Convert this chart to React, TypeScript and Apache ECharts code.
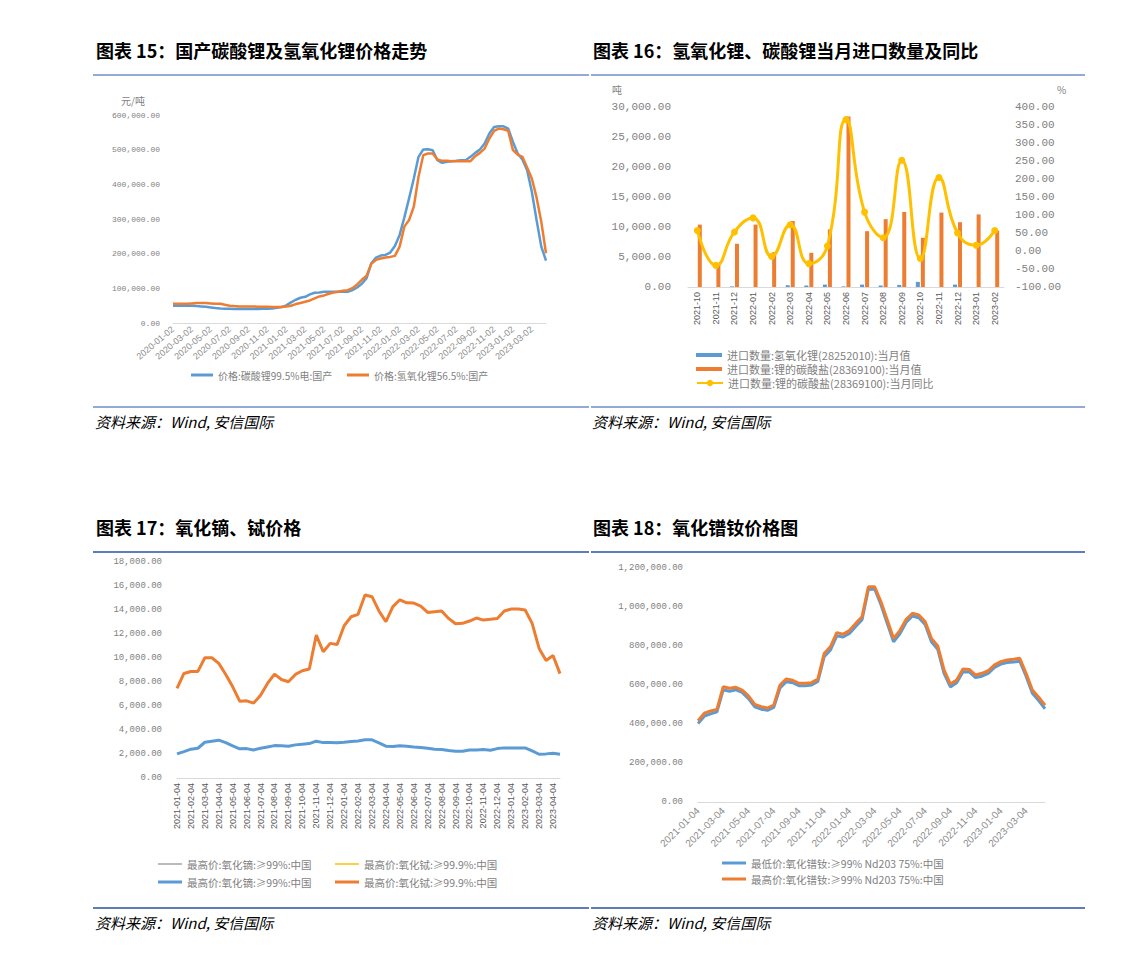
import React, { useEffect, useRef } from "react";
import * as echarts from "echarts";

// ---------- categories ----------
function semiMonthly(y0: number, m0: number, d1: string, d2: string, count: number): string[] {
  const out: string[] = [];
  let y = y0;
  let m = m0;
  while (out.length < count) {
    const mm = m < 10 ? "0" + m : "" + m;
    out.push(`${y}-${mm}-${d1}`);
    if (out.length < count) out.push(`${y}-${mm}-${d2}`);
    m += 1;
    if (m > 12) { m = 1; y += 1; }
  }
  return out;
}
const dates15 = semiMonthly(2020, 1, "02", "17", 80);
const dates17 = semiMonthly(2021, 1, "04", "19", 56);
const dates18 = semiMonthly(2021, 1, "04", "19", 56);
const months16 = ["2021-10", "2021-11", "2021-12", "2022-01", "2022-02", "2022-03", "2022-04", "2022-05", "2022-06", "2022-07", "2022-08", "2022-09", "2022-10", "2022-11", "2022-12", "2023-01", "2023-02"];

// ---------- chart 15: lithium prices (yuan/t) ----------
const carbonatePrice = [49800, 49800, 49800, 49800, 49800, 48800, 47900, 46900, 45000, 43100, 42100, 41200, 41200, 40200, 40200, 40200, 40200, 40200, 40200, 41200, 41200, 42100, 44000, 45900, 50700, 59400, 67000, 72800, 75700, 82400, 87200, 88100, 90100, 90100, 90100, 90100, 90100, 90100, 94800, 102500, 113100, 129400, 172500, 188800, 194500, 196500, 203200, 222300, 254000, 304800, 359400, 417000, 479300, 500400, 501300, 498500, 469700, 462000, 465000, 466800, 467800, 469700, 469700, 479300, 490800, 500400, 517600, 546400, 565600, 567500, 567500, 560800, 522400, 488900, 471600, 441000, 378600, 297100, 220400, 180200];
const hydroxidePrice = [55500, 55500, 55500, 55500, 56500, 57500, 57500, 57500, 56500, 55500, 55500, 52600, 49800, 48800, 47900, 47900, 47900, 47900, 46900, 46900, 46900, 45900, 45900, 45900, 47900, 49800, 54600, 57500, 61300, 65100, 70900, 76600, 79500, 84300, 88100, 90100, 92900, 94800, 100600, 111100, 124600, 136100, 170600, 182100, 185900, 188800, 190700, 193600, 220400, 278000, 297100, 335500, 421800, 484100, 488900, 488900, 471600, 467800, 467800, 466800, 466800, 466800, 466800, 466800, 481200, 490800, 503200, 532000, 554000, 560800, 558900, 554000, 498500, 486000, 479300, 448600, 417000, 362300, 292300, 201300];

// ---------- chart 16: imports ----------
const hydroxideImports = [0, 0, 100, 0, 0, 300, 250, 400, 100, 400, 250, 350, 850, 0, 400, 0, 0];
const carbonateImports = [10400, 3900, 7200, 10400, 5800, 11000, 5700, 9600, 28400, 9300, 11300, 12500, 8200, 12400, 10800, 12100, 9400];
const carbonateImportsYoY = [57, -40, 53, 92, -15, 73, -35, 14, 365, 108, 37, 252, -21, 204, 50, 16, 57];

// ---------- chart 17: Dy2O3 / Tb4O7 (yuan/kg) ----------
const dysprosiumMax = [2010, 2200, 2400, 2480, 2980, 3070, 3150, 2950, 2680, 2430, 2450, 2340, 2480, 2590, 2700, 2680, 2650, 2760, 2820, 2870, 3070, 2950, 2950, 2930, 2980, 3040, 3090, 3180, 3180, 2930, 2650, 2620, 2680, 2650, 2590, 2540, 2480, 2400, 2370, 2290, 2230, 2230, 2340, 2340, 2370, 2310, 2450, 2510, 2510, 2510, 2510, 2260, 1980, 2010, 2060, 1980];
const terbiumMax = [7460, 8710, 8880, 8880, 10020, 10020, 9550, 8630, 7600, 6400, 6430, 6240, 6900, 7880, 8660, 8210, 8020, 8630, 8940, 9080, 11910, 10520, 11220, 11130, 12690, 13440, 13640, 15250, 15110, 13920, 13030, 14280, 14850, 14600, 14580, 14330, 13800, 13860, 13920, 13300, 12860, 12890, 13080, 13330, 13160, 13220, 13300, 13920, 14080, 14080, 14000, 12890, 10800, 9800, 10200, 8700];

// ---------- chart 18: PrNd oxide (yuan/t) ----------
const prndMin = [402000, 440000, 452000, 462000, 575000, 568000, 575000, 562000, 530000, 488000, 476000, 470000, 485000, 585000, 617000, 612000, 596000, 596000, 600000, 618000, 745000, 780000, 852000, 846000, 864000, 900000, 935000, 1090000, 1092000, 1012000, 915000, 822000, 862000, 922000, 954000, 945000, 910000, 822000, 783000, 660000, 590000, 612000, 668000, 667000, 638000, 645000, 660000, 690000, 707000, 715000, 718000, 722000, 645000, 558000, 520000, 478000];
const prndMax = [417000, 455000, 467000, 475000, 591000, 583000, 588000, 574000, 544000, 501000, 489000, 482000, 497000, 600000, 631000, 624000, 609000, 609000, 612000, 631000, 762000, 797000, 868000, 861000, 879000, 916000, 950000, 1104000, 1104000, 1027000, 933000, 839000, 879000, 937000, 968000, 959000, 925000, 839000, 800000, 677000, 605000, 626000, 682000, 680000, 651000, 660000, 673000, 703000, 720000, 728000, 732000, 737000, 660000, 574000, 537000, 496000];

// ---------- texts ----------
const titles = [
  "图表 15：国产碳酸锂及氢氧化锂价格走势",
  "图表 16：氢氧化锂、碳酸锂当月进口数量及同比",
  "图表 17：氧化镝、铽价格",
  "图表 18：氧化镨钕价格图",
];
const sourceText = "资料来源：Wind, 安信国际";

const BLUE = "#5B9BD5";
const ORANGE = "#ED7D31";
const YELLOW = "#FFC000";
const GRAY = "#A5A5A5";
const CJK = '"Noto Sans CJK SC", "Noto Sans", sans-serif';
const MONO = '"Liberation Mono", "DejaVu Sans Mono", monospace';
const SANS = '"Liberation Sans", Arial, sans-serif';

const fmt = (v: number) =>
  Number(v).toLocaleString("en-US", { minimumFractionDigits: 2, maximumFractionDigits: 2 });

function valueAxis(gridIndex: number, min: number, max: number, interval: number, size: number, margin: number, extra: any = {}) {
  return {
    type: "value",
    gridIndex,
    min,
    max,
    interval,
    axisLine: { show: false },
    axisTick: { show: false },
    splitLine: { show: false },
    axisLabel: { color: "#7f7f7f", fontFamily: MONO, fontSize: size, margin, formatter: fmt },
    ...extra,
  };
}

function catAxis(gridIndex: number, data: string[], boundaryGap: boolean, interval: number, rotate: number, size: number, margin: number, color: string) {
  return {
    type: "category",
    gridIndex,
    data,
    boundaryGap,
    axisLine: { show: true, lineStyle: { color: "#d9d9d9", width: 1 } },
    axisTick: { show: false },
    splitLine: { show: false },
    axisLabel: { interval, rotate, fontSize: size, fontFamily: SANS, color, margin },
  };
}

function legendAt(name: string, left: number, top: number, fontSize: number, extra: any = {}) {
  return {
    data: [name],
    left,
    top,
    padding: 0,
    itemGap: 0,
    itemWidth: 24,
    itemHeight: 3,
    icon: "rect",
    selectedMode: false,
    textStyle: { color: "#7f7f7f", fontFamily: CJK, fontSize, lineHeight: 12 },
    ...extra,
  };
}

function lineSeries(name: string, xi: number, yi: number, data: number[], color: string, width: number) {
  return {
    name,
    type: "line",
    xAxisIndex: xi,
    yAxisIndex: yi,
    data,
    symbol: "none",
    lineStyle: { color, width },
    itemStyle: { color },
  };
}

function buildOption(): any {
  const stripTag = (n: string) => n.replace(/#.*$/, "");

  const graphics: any[] = [];
  const titlePos = [
    [96, 50],
    [593, 50],
    [96, 527],
    [593, 527],
  ];
  titles.forEach((t, i) => {
    graphics.push({
      type: "text",
      x: titlePos[i][0],
      y: titlePos[i][1],
      style: { text: t, fontSize: 18, fontWeight: "bold", fontFamily: CJK, fill: "#000", verticalAlign: "middle" },
    });
  });
  const srcPos = [
    [95, 421],
    [592, 421],
    [95, 922],
    [592, 922],
  ];
  srcPos.forEach((p) => {
    graphics.push({
      type: "text",
      x: p[0],
      y: p[1],
      style: { text: sourceText, fontSize: 15, fontStyle: "italic", fontFamily: CJK, fill: "#000", verticalAlign: "middle" },
    });
  });
  const rules = [
    [93, 589, 75, "#6F8DCB"],
    [591, 1085, 75, "#6F8DCB"],
    [93, 589, 407, "#6F8DCB"],
    [591, 1085, 407, "#6F8DCB"],
    [93, 589, 552, "#2B50A5"],
    [591, 1085, 552, "#2B50A5"],
    [93, 589, 908, "#2B50A5"],
    [591, 1085, 908, "#2B50A5"],
  ];
  rules.forEach((r: any) => {
    graphics.push({
      type: "line",
      shape: { x1: r[0], y1: r[2], x2: r[1], y2: r[2] },
      style: { stroke: r[3], lineWidth: 1.5 },
    });
  });
  const units = [
    ["元/吨", 121, 100],
    ["吨", 612, 89],
    ["%", 1057, 89],
  ];
  units.forEach((u: any) => {
    graphics.push({
      type: "text",
      x: u[1],
      y: u[2],
      style: { text: u[0], fontSize: 10, fontFamily: CJK, fill: "#7f7f7f", verticalAlign: "middle" },
    });
  });

  const n15a = "价格:碳酸锂99.5%电:国产";
  const n15b = "价格:氢氧化锂56.5%:国产";
  const n16a = "进口数量:氢氧化锂(28252010):当月值";
  const n16b = "进口数量:锂的碳酸盐(28369100):当月值";
  const n16c = "进口数量:锂的碳酸盐(28369100):当月同比";
  const n17a = "最高价:氧化镝:≥99%:中国#a";
  const n17b = "最高价:氧化铽:≥99.9%:中国#a";
  const n17c = "最高价:氧化镝:≥99%:中国";
  const n17d = "最高价:氧化铽:≥99.9%:中国";
  const n18a = "最低价:氧化镨钕:≥99% Nd203 75%:中国";
  const n18b = "最高价:氧化镨钕:≥99% Nd203 75%:中国";

  return {
    animation: false,
    backgroundColor: "#fff",
    graphic: { elements: graphics },
    grid: [
      { left: 173, top: 115, width: 373, height: 208 },
      { left: 688, top: 107, width: 316, height: 180 },
      { left: 177, top: 562, width: 383, height: 216 },
      { left: 698, top: 568, width: 347, height: 234 },
    ],
    xAxis: [
      catAxis(0, dates15, false, 3, 40, 9, 5, "#8c8c8c"),
      catAxis(1, months16, true, 0, 90, 9, 5, "#595959"),
      catAxis(2, dates17, false, 1, 90, 9, 5, "#595959"),
      catAxis(3, dates18, false, 3, 45, 10, 7, "#8c8c8c"),
    ],
    yAxis: [
      valueAxis(0, 0, 600000, 100000, 8, 13),
      valueAxis(1, 0, 30000, 5000, 11, 17),
      valueAxis(1, -100, 400, 50, 11, 11, { position: "right" }),
      valueAxis(2, 0, 18000, 2000, 9, 15),
      valueAxis(3, 0, 1200000, 200000, 9, 15),
    ],
    legend: [
      legendAt(n15a, 191, 369, 10, { itemWidth: 22 }),
      legendAt(n15b, 347, 369, 10, { itemWidth: 22 }),
      legendAt(n16a, 696, 349, 11, { itemHeight: 4, itemWidth: 26 }),
      legendAt(n16b, 696, 363, 11, { itemHeight: 4, itemWidth: 26 }),
      legendAt(n16c, 696, 377, 11, { icon: undefined, itemHeight: 8, itemWidth: 26 }),
      legendAt(n17a, 158, 858, 10.5, { formatter: stripTag, itemHeight: 1.5 }),
      legendAt(n17b, 335, 858, 10.5, { formatter: stripTag, itemHeight: 1.5 }),
      legendAt(n17c, 158, 876, 10.5, { formatter: stripTag }),
      legendAt(n17d, 335, 876, 10.5, { formatter: stripTag }),
      legendAt(n18a, 722, 857, 10.5),
      legendAt(n18b, 722, 873, 10.5),
    ],
    series: [
      lineSeries(n15a, 0, 0, carbonatePrice, BLUE, 2.5),
      lineSeries(n15b, 0, 0, hydroxidePrice, ORANGE, 2.5),
      {
        name: n16a,
        type: "bar",
        xAxisIndex: 1,
        yAxisIndex: 1,
        data: hydroxideImports,
        barWidth: 4,
        barGap: "25%",
        itemStyle: { color: BLUE },
      },
      {
        name: n16b,
        type: "bar",
        xAxisIndex: 1,
        yAxisIndex: 1,
        data: carbonateImports,
        barWidth: 4,
        barGap: "25%",
        itemStyle: { color: ORANGE },
      },
      {
        name: n16c,
        type: "line",
        xAxisIndex: 1,
        yAxisIndex: 2,
        data: carbonateImportsYoY,
        smooth: 0.5,
        symbol: "circle",
        symbolSize: 7,
        lineStyle: { color: YELLOW, width: 3 },
        itemStyle: { color: YELLOW },
      },
      lineSeries(n17a, 2, 3, [], GRAY, 1.5),
      lineSeries(n17b, 2, 3, [], YELLOW, 1.5),
      lineSeries(n17c, 2, 3, dysprosiumMax, BLUE, 3),
      lineSeries(n17d, 2, 3, terbiumMax, ORANGE, 3),
      lineSeries(n18a, 3, 4, prndMin, BLUE, 3),
      lineSeries(n18b, 3, 4, prndMax, ORANGE, 3),
    ],
  };
}

export default function App() {
  const ref = useRef<HTMLDivElement>(null);
  useEffect(() => {
    if (!ref.current) return;
    const chart = echarts.init(ref.current, undefined, { renderer: "svg" });
    chart.setOption(buildOption());
    return () => chart.dispose();
  }, []);
  return (
    <div
      ref={ref}
      style={{ position: "absolute", left: 0, top: 0, width: 1132, height: 956, background: "#fff" }}
    />
  );
}
